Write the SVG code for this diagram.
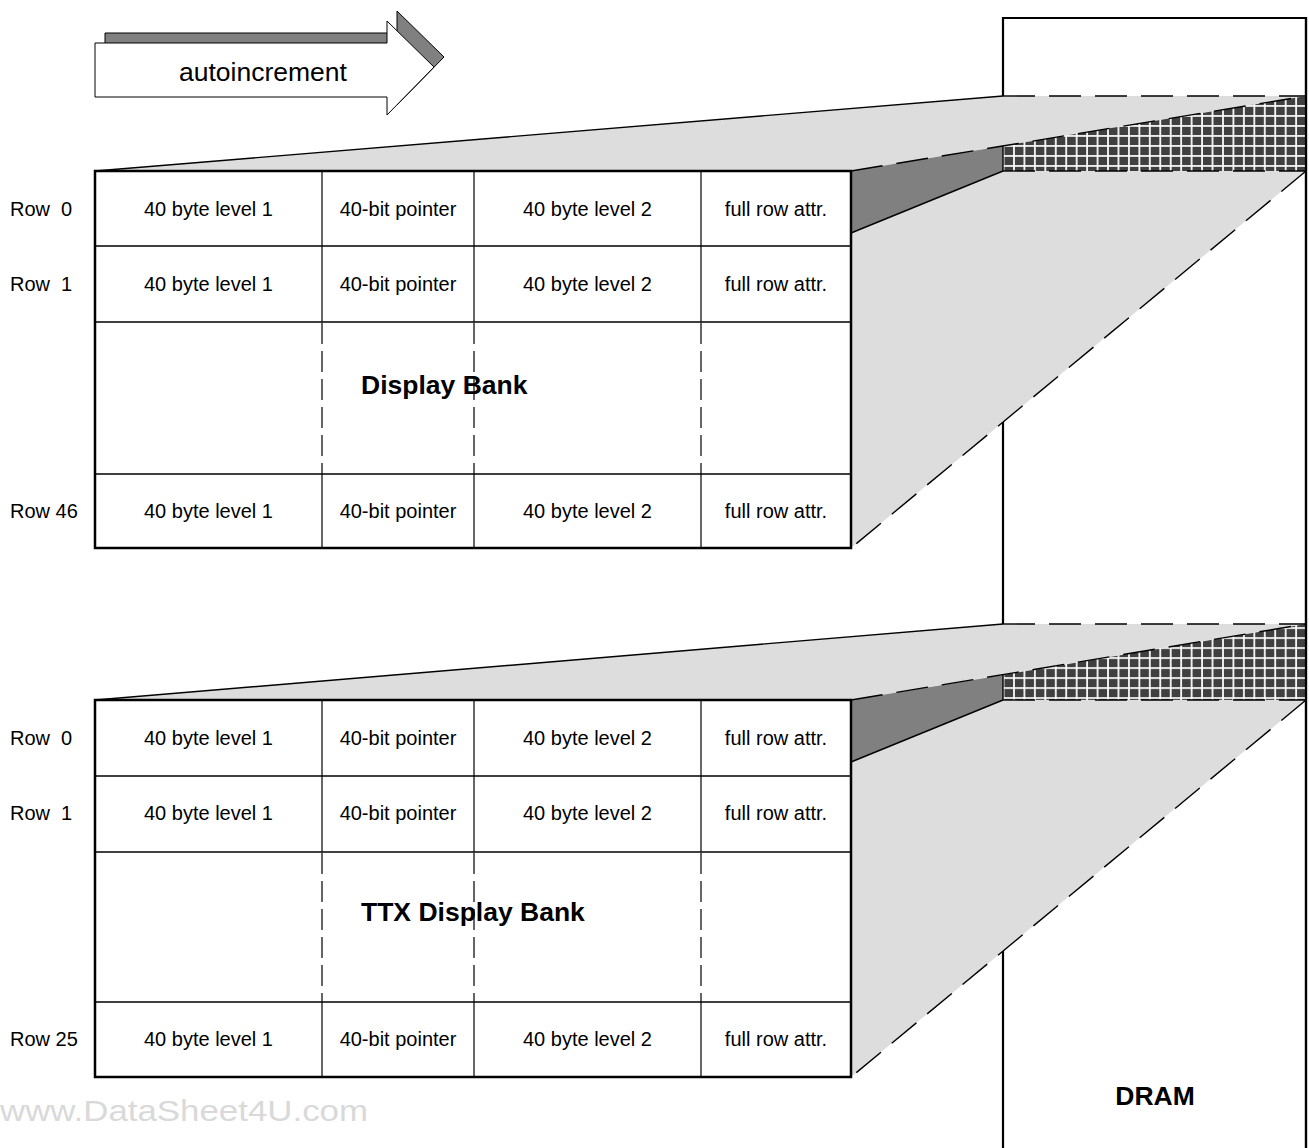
<svg xmlns="http://www.w3.org/2000/svg" width="1309" height="1148" viewBox="0 0 1309 1148">
<style>
text{font-family:"Liberation Sans",Arial,sans-serif;fill:#000}
.cell{font-size:20px;text-anchor:middle}
.lbl{font-size:20px;white-space:pre}
.title{font-size:26.5px;font-weight:bold}
.tbl{fill:#fff;stroke:#000;stroke-width:2.5}
.rl{stroke:#000;stroke-width:1.6}
.cl{stroke:#000;stroke-width:1.2}
.dl{stroke:#000;stroke-width:1.2;stroke-dasharray:21 7}
.lg{fill:#dddddd;stroke:none}
.dg{fill:#808080;stroke:none}
.sol{stroke:#000;stroke-width:1.4;fill:none}
.dsh{stroke:#000;stroke-width:1.4;fill:none;stroke-dasharray:32 14}
</style>
<defs>
<pattern id="chkA" patternUnits="userSpaceOnUse" x="1003.5" y="96" width="10.45" height="10">
<rect width="10.45" height="10" fill="#fff"/>
<rect x="0.9" y="0.8" width="8.7" height="8.3" fill="#404040"/>
</pattern>
<pattern id="chkB" patternUnits="userSpaceOnUse" x="1003.5" y="618.1" width="10.45" height="10">
<rect width="10.45" height="10" fill="#fff"/>
<rect x="0.9" y="0.8" width="8.7" height="8.3" fill="#404040"/>
</pattern>
</defs>
<rect width="1309" height="1148" fill="#fff"/>

<g id="dram">
<path d="M1003,1148 V18 H1306 V1148" fill="#fff" stroke="#000" stroke-width="2.2"/>
<text class="title" x="1155" y="1105" text-anchor="middle">DRAM</text>
</g>

<g id="autoincrement">
<polygon points="105,33 397,33 397,11 444,57 397,105 397,87 105,87" fill="#808080" stroke="#000" stroke-width="1"/>
<polygon points="95,43 387,43 387,21 434,67 387,115 387,97 95,97" fill="#fff" stroke="#000" stroke-width="1"/>
<text x="263" y="81" font-size="26.5" text-anchor="middle">autoincrement</text>
</g>

<g id="connectors">
<g id="projection-top">
<polygon class="lg" points="95,171 1003,96 1306,96 851,171"/>
<polygon points="1003,146 1306,96 1306,171 1003,171" fill="url(#chkA)"/>
<polygon class="dg" points="851,171 1003,146 1003,171 851,233"/>
<polygon class="lg" points="851,233 1003,171 1306,171 851,548"/>
<line class="sol" x1="95" y1="171" x2="1003" y2="96"/>
<line class="dsh" x1="1003" y1="96" x2="1306" y2="96"/>
<line class="dsh" x1="851" y1="171" x2="1306" y2="96"/>
<line class="sol" x1="1003" y1="146" x2="1003" y2="171"/>
<line class="sol" x1="851" y1="233" x2="1003" y2="171"/>
<line class="dsh" x1="1003" y1="171" x2="1306" y2="171"/>
<line class="dsh" x1="1306" y1="171" x2="851" y2="548"/>
</g>
<g id="projection-bottom">
<polygon class="lg" points="95,700 1003,624 1306,624 851,700"/>
<polygon points="1003,675 1306,624 1306,700 1003,700" fill="url(#chkB)"/>
<polygon class="dg" points="851,700 1003,675 1003,700 851,762"/>
<polygon class="lg" points="851,762 1003,700 1306,700 851,1077"/>
<line class="sol" x1="95" y1="700" x2="1003" y2="624"/>
<line class="dsh" x1="1003" y1="624" x2="1306" y2="624"/>
<line class="dsh" x1="851" y1="700" x2="1306" y2="624"/>
<line class="sol" x1="1003" y1="675" x2="1003" y2="700"/>
<line class="sol" x1="851" y1="762" x2="1003" y2="700"/>
<line class="dsh" x1="1003" y1="700" x2="1306" y2="700"/>
<line class="dsh" x1="1306" y1="700" x2="851" y2="1077"/>
</g>
<line x1="1306" y1="18" x2="1306" y2="1148" stroke="#000" stroke-width="2.2"/>
</g>

<g id="display-bank">
<rect class="tbl" x="95" y="171" width="756" height="377"/>
<line class="rl" x1="95" y1="246" x2="851" y2="246"/>
<line class="rl" x1="95" y1="322" x2="851" y2="322"/>
<line class="rl" x1="95" y1="474" x2="851" y2="474"/>
<line class="cl" x1="322" y1="171" x2="322" y2="322"/>
<line class="cl" x1="474" y1="171" x2="474" y2="322"/>
<line class="cl" x1="701" y1="171" x2="701" y2="322"/>
<line class="dl" x1="322" y1="323" x2="322" y2="474"/>
<line class="dl" x1="474" y1="323" x2="474" y2="474"/>
<line class="dl" x1="701" y1="323" x2="701" y2="474"/>
<line class="cl" x1="322" y1="474" x2="322" y2="548"/>
<line class="cl" x1="474" y1="474" x2="474" y2="548"/>
<line class="cl" x1="701" y1="474" x2="701" y2="548"/>
<text class="lbl" x="10" y="216">Row  0</text>
<text class="lbl" x="10" y="291">Row  1</text>
<text class="lbl" x="10" y="518">Row 46</text>
<text class="cell" x="208.5" y="216">40 byte level 1</text>
<text class="cell" x="398" y="216">40-bit pointer</text>
<text class="cell" x="587.5" y="216">40 byte level 2</text>
<text class="cell" x="776" y="216">full row attr.</text>
<text class="cell" x="208.5" y="291">40 byte level 1</text>
<text class="cell" x="398" y="291">40-bit pointer</text>
<text class="cell" x="587.5" y="291">40 byte level 2</text>
<text class="cell" x="776" y="291">full row attr.</text>
<text class="cell" x="208.5" y="518">40 byte level 1</text>
<text class="cell" x="398" y="518">40-bit pointer</text>
<text class="cell" x="587.5" y="518">40 byte level 2</text>
<text class="cell" x="776" y="518">full row attr.</text>
<text class="title" x="361" y="394">Display Bank</text>
</g>

<g id="ttx-display-bank">
<rect class="tbl" x="95" y="700" width="756" height="377"/>
<line class="rl" x1="95" y1="776" x2="851" y2="776"/>
<line class="rl" x1="95" y1="852" x2="851" y2="852"/>
<line class="rl" x1="95" y1="1002" x2="851" y2="1002"/>
<line class="cl" x1="322" y1="700" x2="322" y2="852"/>
<line class="cl" x1="474" y1="700" x2="474" y2="852"/>
<line class="cl" x1="701" y1="700" x2="701" y2="852"/>
<line class="dl" x1="322" y1="853" x2="322" y2="1002"/>
<line class="dl" x1="474" y1="853" x2="474" y2="1002"/>
<line class="dl" x1="701" y1="853" x2="701" y2="1002"/>
<line class="cl" x1="322" y1="1002" x2="322" y2="1077"/>
<line class="cl" x1="474" y1="1002" x2="474" y2="1077"/>
<line class="cl" x1="701" y1="1002" x2="701" y2="1077"/>
<text class="lbl" x="10" y="745">Row  0</text>
<text class="lbl" x="10" y="820">Row  1</text>
<text class="lbl" x="10" y="1046">Row 25</text>
<text class="cell" x="208.5" y="745">40 byte level 1</text>
<text class="cell" x="398" y="745">40-bit pointer</text>
<text class="cell" x="587.5" y="745">40 byte level 2</text>
<text class="cell" x="776" y="745">full row attr.</text>
<text class="cell" x="208.5" y="820">40 byte level 1</text>
<text class="cell" x="398" y="820">40-bit pointer</text>
<text class="cell" x="587.5" y="820">40 byte level 2</text>
<text class="cell" x="776" y="820">full row attr.</text>
<text class="cell" x="208.5" y="1046">40 byte level 1</text>
<text class="cell" x="398" y="1046">40-bit pointer</text>
<text class="cell" x="587.5" y="1046">40 byte level 2</text>
<text class="cell" x="776" y="1046">full row attr.</text>
<text class="title" x="361" y="921">TTX Display Bank</text>
</g>

<text x="0" y="1121" font-size="30" style="fill:#d9d9d9" textLength="368" lengthAdjust="spacingAndGlyphs">www.DataSheet4U.com</text>
</svg>
